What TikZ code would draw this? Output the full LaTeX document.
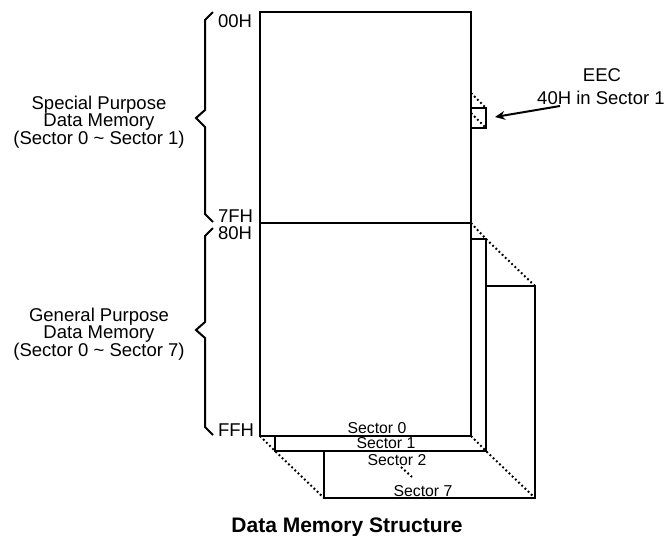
\documentclass[tikz,border=0pt]{standalone}
\usepackage{fontspec}
\setmainfont{Liberation Sans}
\usetikzlibrary{arrows.meta}

\begin{document}
\begin{tikzpicture}[x=0.5pt,y=-0.5pt,line width=1pt,
	every node/.style={inner sep=0pt,font=\fontsize{9.25}{8.75}\selectfont},
	sector/.style={draw,fill=white},
	depth/.style={dash pattern=on 0.9pt off 1.3pt},
	brace/.style={line join=miter},
	seclabel/.style={anchor=base,font=\fontsize{7.9}{9}\selectfont},
	addr/.style={anchor=base west}]
	\useasboundingbox (0,0) rectangle (665,536);
	% sectors, back to front
	\draw[sector] (324,286) coordinate (s7nw) rectangle (535,498) coordinate (s7se);
	\draw[sector] (275,239) coordinate (s1nw) rectangle (486,451) coordinate (s1se);
	\draw[sector] (260,12) coordinate (s0nw) rectangle (471,436) coordinate (s0se);
	\draw (260,223) coordinate (splitw) -- (471,223) coordinate (splite);
	% depth lines
	\draw[depth] (s0nw |- s0se) -- (s1nw |- s1se) -- (s7nw |- s7se);
	\draw[depth] (s0se) -- (s1se) -- (s7se);
	\draw[depth] (splite) -- (s1se |- s1nw) -- (s7se |- s7nw);
	\draw[depth] (401,467) coordinate (gapa) -- (412,477) coordinate (gapb);
	\node[seclabel] (sec0) at (377,433) {Sector 0};
	\node[seclabel] (sec1) at (386,448) {Sector 1};
	\node[seclabel] (sec2) at (397,465) {Sector 2};
	\node[seclabel] (sec7) at (423,496) {Sector 7};
	% EEC
	\draw[fill=white] (471,108) coordinate (eecnw) rectangle (486,128) coordinate (eecse);
	\draw[depth] (471,93) -- (eecse |- eecnw);
	\draw[depth] (471,113) -- (eecse);
	\coordinate (eecbox) at (495,117);
	\node[anchor=base] (eec) at (602,81) {EEC};
	\node[anchor=base] (eecaddr) at (601,104) {40H in Sector 1};
	\coordinate (eecfrom) at (560,106);
	\draw[-{Stealth[length=5pt,width=4.5pt]}] (eecfrom) -- (eecbox);
	% addresses
	\node[addr] (a00) at (217,27) {00H};
	\node[addr] (a7f) at (217,222) {7FH};
	\node[addr] (a80) at (217,239) {80H};
	\node[addr] (aff) at (217,436) {FFH};
	% braces
	\draw[brace] (213,12) -- (205,20) -- (205,110) -- (196,118) -- (205,127) -- (205,214) -- (213,222);
	\draw[brace] (213,228) -- (205,236) -- (205,322) -- (196,330) -- (205,338) -- (205,427) -- (213,435);
	\node[align=center] (special) at (99,122) {Special Purpose\\Data Memory\\(Sector 0 \textasciitilde{} Sector 1)};
	\node[align=center] (general) at (99,334) {General Purpose\\Data Memory\\(Sector 0 \textasciitilde{} Sector 7)};
	\node[anchor=base,font=\fontsize{10.5}{12}\selectfont\bfseries] (title) at (347,532) {Data Memory Structure};
\end{tikzpicture}
\end{document}
